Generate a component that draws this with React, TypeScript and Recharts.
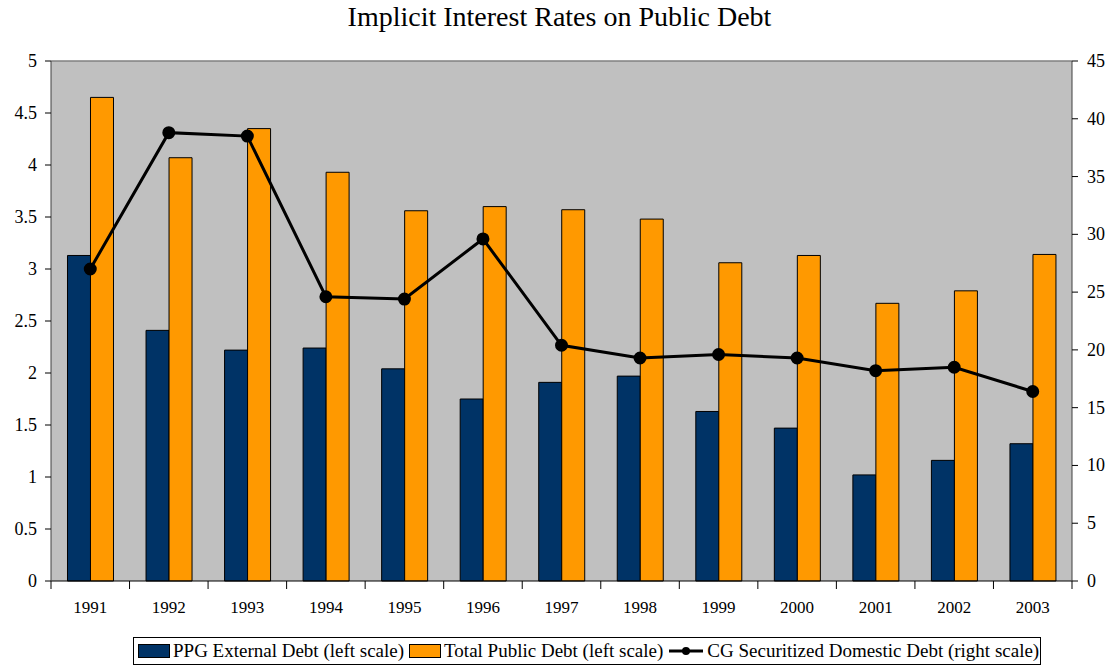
import React from "react";
import {
  ComposedChart,
  Bar,
  Line,
  XAxis,
  YAxis,
  CartesianGrid,
  Legend,
  ReferenceLine,
} from "recharts";

const years = [
  "1991", "1992", "1993", "1994", "1995", "1996", "1997",
  "1998", "1999", "2000", "2001", "2002", "2003",
];
const ppgExternal = [3.13, 2.41, 2.22, 2.24, 2.04, 1.75, 1.91, 1.97, 1.63, 1.47, 1.02, 1.16, 1.32];
const totalPublic = [4.65, 4.07, 4.35, 3.93, 3.56, 3.6, 3.57, 3.48, 3.06, 3.13, 2.67, 2.79, 3.14];
const cgSecuritized = [27.0, 38.8, 38.5, 24.6, 24.4, 29.6, 20.4, 19.3, 19.6, 19.3, 18.2, 18.5, 16.4];

const leftTicks = [0, 0.5, 1, 1.5, 2, 2.5, 3, 3.5, 4, 4.5, 5];
const rightTicks = [0, 5, 10, 15, 20, 25, 30, 35, 40, 45];

const data = years.map((year, i) => ({
  year,
  ppg: ppgExternal[i],
  total: totalPublic[i],
  cg: cgSecuritized[i],
}));

const FONT = "Liberation Serif";
const WIDTH = 1109;
const HEIGHT = 666;
const BAND = (1072 - 51) / years.length;

function YearTick(props: any) {
  const { x, y, payload, index } = props;
  return (
    <g>
      <line x1={x - BAND / 2} y1={y - 8} x2={x - BAND / 2} y2={y} stroke="#000" />
      {index === years.length - 1 && (
        <line x1={x + BAND / 2} y1={y - 8} x2={x + BAND / 2} y2={y} stroke="#000" />
      )}
      <text
        x={x}
        y={y + 24}
        textAnchor="middle"
        fill="#000"
        fontFamily={FONT}
        fontSize={17}
      >
        {payload.value}
      </text>
    </g>
  );
}

function ValueTick(props: any) {
  const { x, y, payload, orientation } = props;
  const left = orientation === "left";
  return (
    <text
      x={left ? x - 6 : x + 7}
      y={y + 6}
      textAnchor={left ? "end" : "start"}
      fill="#000"
      fontFamily={FONT}
      fontSize={18}
    >
      {String(payload.value)}
    </text>
  );
}

function LegendBox() {
  const item = (swatch: React.ReactNode, label: string, gap: number) => (
    <span style={{ display: "inline-flex", alignItems: "center", marginRight: gap }}>
      {swatch}
      <span style={{ marginLeft: 3 }}>{label}</span>
    </span>
  );
  const box = (color: string) => (
    <span
      style={{
        display: "inline-block",
        width: 32,
        height: 14,
        background: color,
        border: "1.5px solid #000",
        boxSizing: "border-box",
      }}
    />
  );
  return (
    <div
      style={{
        border: "1px solid #000",
        height: 28,
        boxSizing: "border-box",
        display: "flex",
        alignItems: "center",
        paddingLeft: 4,
        fontSize: 19,
        color: "#000",
        whiteSpace: "nowrap",
      }}
    >
      {item(box("#003366"), "PPG External Debt (left scale)", 5)}
      {item(box("#FF9900"), "Total Public Debt (left scale)", 5)}
      {item(
        <svg width={36} height={12}>
          <line x1={1} y1={6} x2={35} y2={6} stroke="#000" strokeWidth={3} />
          <circle cx={18} cy={6} r={4} fill="#000" />
        </svg>,
        "CG Securitized Domestic Debt (right scale)",
        0
      )}
    </div>
  );
}

export default function App() {
  return (
    <div
      style={{
        position: "absolute",
        left: 0,
        top: 0,
        width: WIDTH,
        height: HEIGHT,
        background: "#fff",
        fontFamily: FONT,
      }}
    >
      <div
        style={{
          position: "absolute",
          top: 1,
          left: 0,
          width: WIDTH + 10,
          textAlign: "center",
          fontSize: 28,
          color: "#000",
        }}
      >
        Implicit Interest Rates on Public Debt
      </div>
      <ComposedChart
        width={WIDTH}
        height={HEIGHT}
        data={data}
        margin={{ top: 61, right: 0, left: 0, bottom: 17 }}
        barCategoryGap="21%"
        barGap={0}
      >
        <CartesianGrid fill="#C0C0C0" horizontal={false} vertical={false} yAxisId="left" />
        <ReferenceLine yAxisId="left" y={5} stroke="#808080" strokeWidth={1.5} />
        <XAxis
          dataKey="year"
          height={40}
          tick={<YearTick />}
          tickLine={false}
          axisLine={{ stroke: "#000" }}
          interval={0}
        />
        <YAxis
          yAxisId="left"
          orientation="left"
          width={51}
          domain={[0, 5]}
          ticks={leftTicks}
          tick={<ValueTick />}
          tickSize={6}
          tickLine={{ stroke: "#000" }}
          axisLine={{ stroke: "#404040" }}
          interval={0}
        />
        <YAxis
          yAxisId="right"
          orientation="right"
          width={37}
          domain={[0, 45]}
          ticks={rightTicks}
          tick={<ValueTick />}
          tickSize={6}
          tickLine={{ stroke: "#000" }}
          axisLine={{ stroke: "#404040" }}
          interval={0}
        />
        <Bar
          yAxisId="left"
          dataKey="ppg"
          name="PPG External Debt (left scale)"
          fill="#003366"
          stroke="#000"
          strokeWidth={1}
          isAnimationActive={false}
        />
        <Bar
          yAxisId="left"
          dataKey="total"
          name="Total Public Debt (left scale)"
          fill="#FF9900"
          stroke="#000"
          strokeWidth={1}
          isAnimationActive={false}
        />
        <Line
          yAxisId="right"
          dataKey="cg"
          name="CG Securitized Domestic Debt (right scale)"
          stroke="#000"
          strokeWidth={3}
          dot={{ r: 5, fill: "#000", stroke: "#000" }}
          isAnimationActive={false}
        />
        <Legend
          verticalAlign="bottom"
          content={() => <LegendBox />}
          wrapperStyle={{ left: 133, width: 908, height: 28, bottom: 1 }}
        />
      </ComposedChart>
    </div>
  );
}
